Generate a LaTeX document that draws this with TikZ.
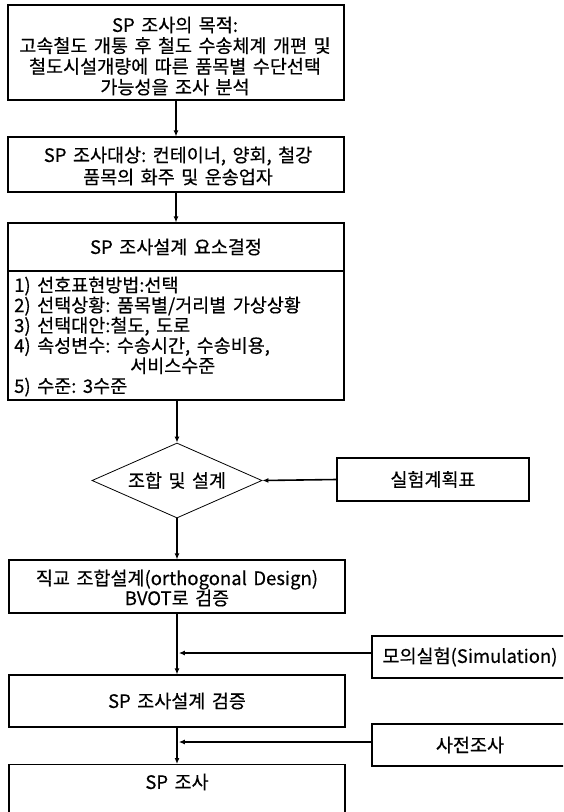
\documentclass[tikz,border=0pt]{standalone}
\usepackage{fontspec}
\setmainfont{Noto Sans CJK KR}[FakeBold=0.4]
\newcommand{\w}{\hspace{6.5pt}}
\usetikzlibrary{arrows.meta,shapes.geometric,shadows}
\begin{document}
\begin{tikzpicture}[x=1pt,y=-1pt,
  fnt/.style={font=\fontsize{18.5}{20.7}\selectfont},
  box/.style={draw,line width=1.1pt,inner sep=0pt,align=center,fill=white,fnt,
    drop shadow={shadow xshift=1.3pt,shadow yshift=-1.3pt,fill=black!60,opacity=1}},
  plain/.style={draw,line width=1.1pt,inner sep=0pt,align=center,fill=white,fnt},
  txt/.style={inner sep=0pt,fnt},
  arr/.style={line width=1.6pt,-{Latex[length=6pt,width=5pt]}},
  dia/.style={draw,line width=0.8pt,diamond,aspect=2.27,minimum width=170pt,minimum height=75pt,inner sep=0pt,fnt}
]
\clip (0,0) rectangle (563,812);
\fill[white] (0,0) rectangle (563,812);

% main column
\node[box,minimum width=336pt,minimum height=95pt] (b1) at (176,52.5) {};
\node[txt,align=center] (t1) at (175,56) {SP\w 조사의\w 목적:\\고속철도\w 개통\w 후\w 철도\w 수송체계\w 개편\w 및\\철도시설개량에\w 따른\w 품목별\w 수단선택\\가능성을\w 조사\w 분석};

\node[box,minimum width=336pt,minimum height=55pt] (b2) at (176,164.5) {};
\node[txt,align=center,font=\fontsize{18.5}{22}\selectfont] (t2) at (178,166) {SP\w 조사대상:\w 컨테이너,\w 양회,\w 철강\\품목의\w 화주\w 및\w 운송업자};

\node[box,minimum width=336pt,minimum height=177pt] (b3) at (176,311.5) {};
\node[plain,minimum width=336pt,minimum height=48pt] (b3h) at (176,247) {SP\w 조사설계\w 요소결정};
\coordinate (b3s) at (177,400);
\node[txt,align=left,anchor=west,font=\fontsize{18.5}{20.2}\selectfont] (t3) at (14,336.5) {1)\w 선호표현방법:선택\\2)\w 선택상황:\w 품목별/거리별\w 가상상황\\3)\w 선택대안:철도,\w 도로\\4)\w 속성변수:\w 수송시간,\w 수송비용,\\\hspace*{116pt}서비스수준\\5)\w 수준:\w 3수준};

\node[dia,fill=white] (d) at (177,480.5) {조합\w 및\w 설계};
\node[plain,minimum width=192pt,minimum height=43pt] (plan) at (433,479.5) {실험계획표};

\node[box,minimum width=336pt,minimum height=53pt] (b4) at (177,586.5) {};
\node[txt,align=center,font=\fontsize{18.5}{20}\selectfont] (t4) at (177,588) {직교\w 조합설계(orthogonal\w Design)\\BVOT로\w 검증};

\node[box,minimum width=336pt,minimum height=52pt] (b5) at (177,701) {SP\w 조사설계\w 검증};

\node[box,minimum width=336pt,minimum height=90pt,anchor=north] (b6) at (177,764) {};
\node[txt] (t6) at (177,782) {SP\w 조사};

% side boxes
\node[plain,minimum width=196pt,minimum height=42pt] (sim) at (470,657) {모의실험(Simulation)};
\node[plain,minimum width=196pt,minimum height=42pt] (pre) at (470,745) {사전조사};

% connectors
\draw[arr] (b1.south) -- (b2.north);
\draw[arr] (b2.south) -- (b3h.north);
\draw[arr] (b3s) -- (d.north);
\draw[arr] (d.south) -- (b4.north);
\draw[arr] (b4.south) -- (b5.north);
\draw[arr] (b5.south) -- (b6.north);
\draw[arr] (plan.west) -- (d.east);
\coordinate (j1) at (178.8,653);
\coordinate (j2) at (178.8,742);
\draw[arr] (sim.west |- j1) -- (j1);
\draw[arr] (pre.west |- j2) -- (j2);
\end{tikzpicture}
\end{document}
